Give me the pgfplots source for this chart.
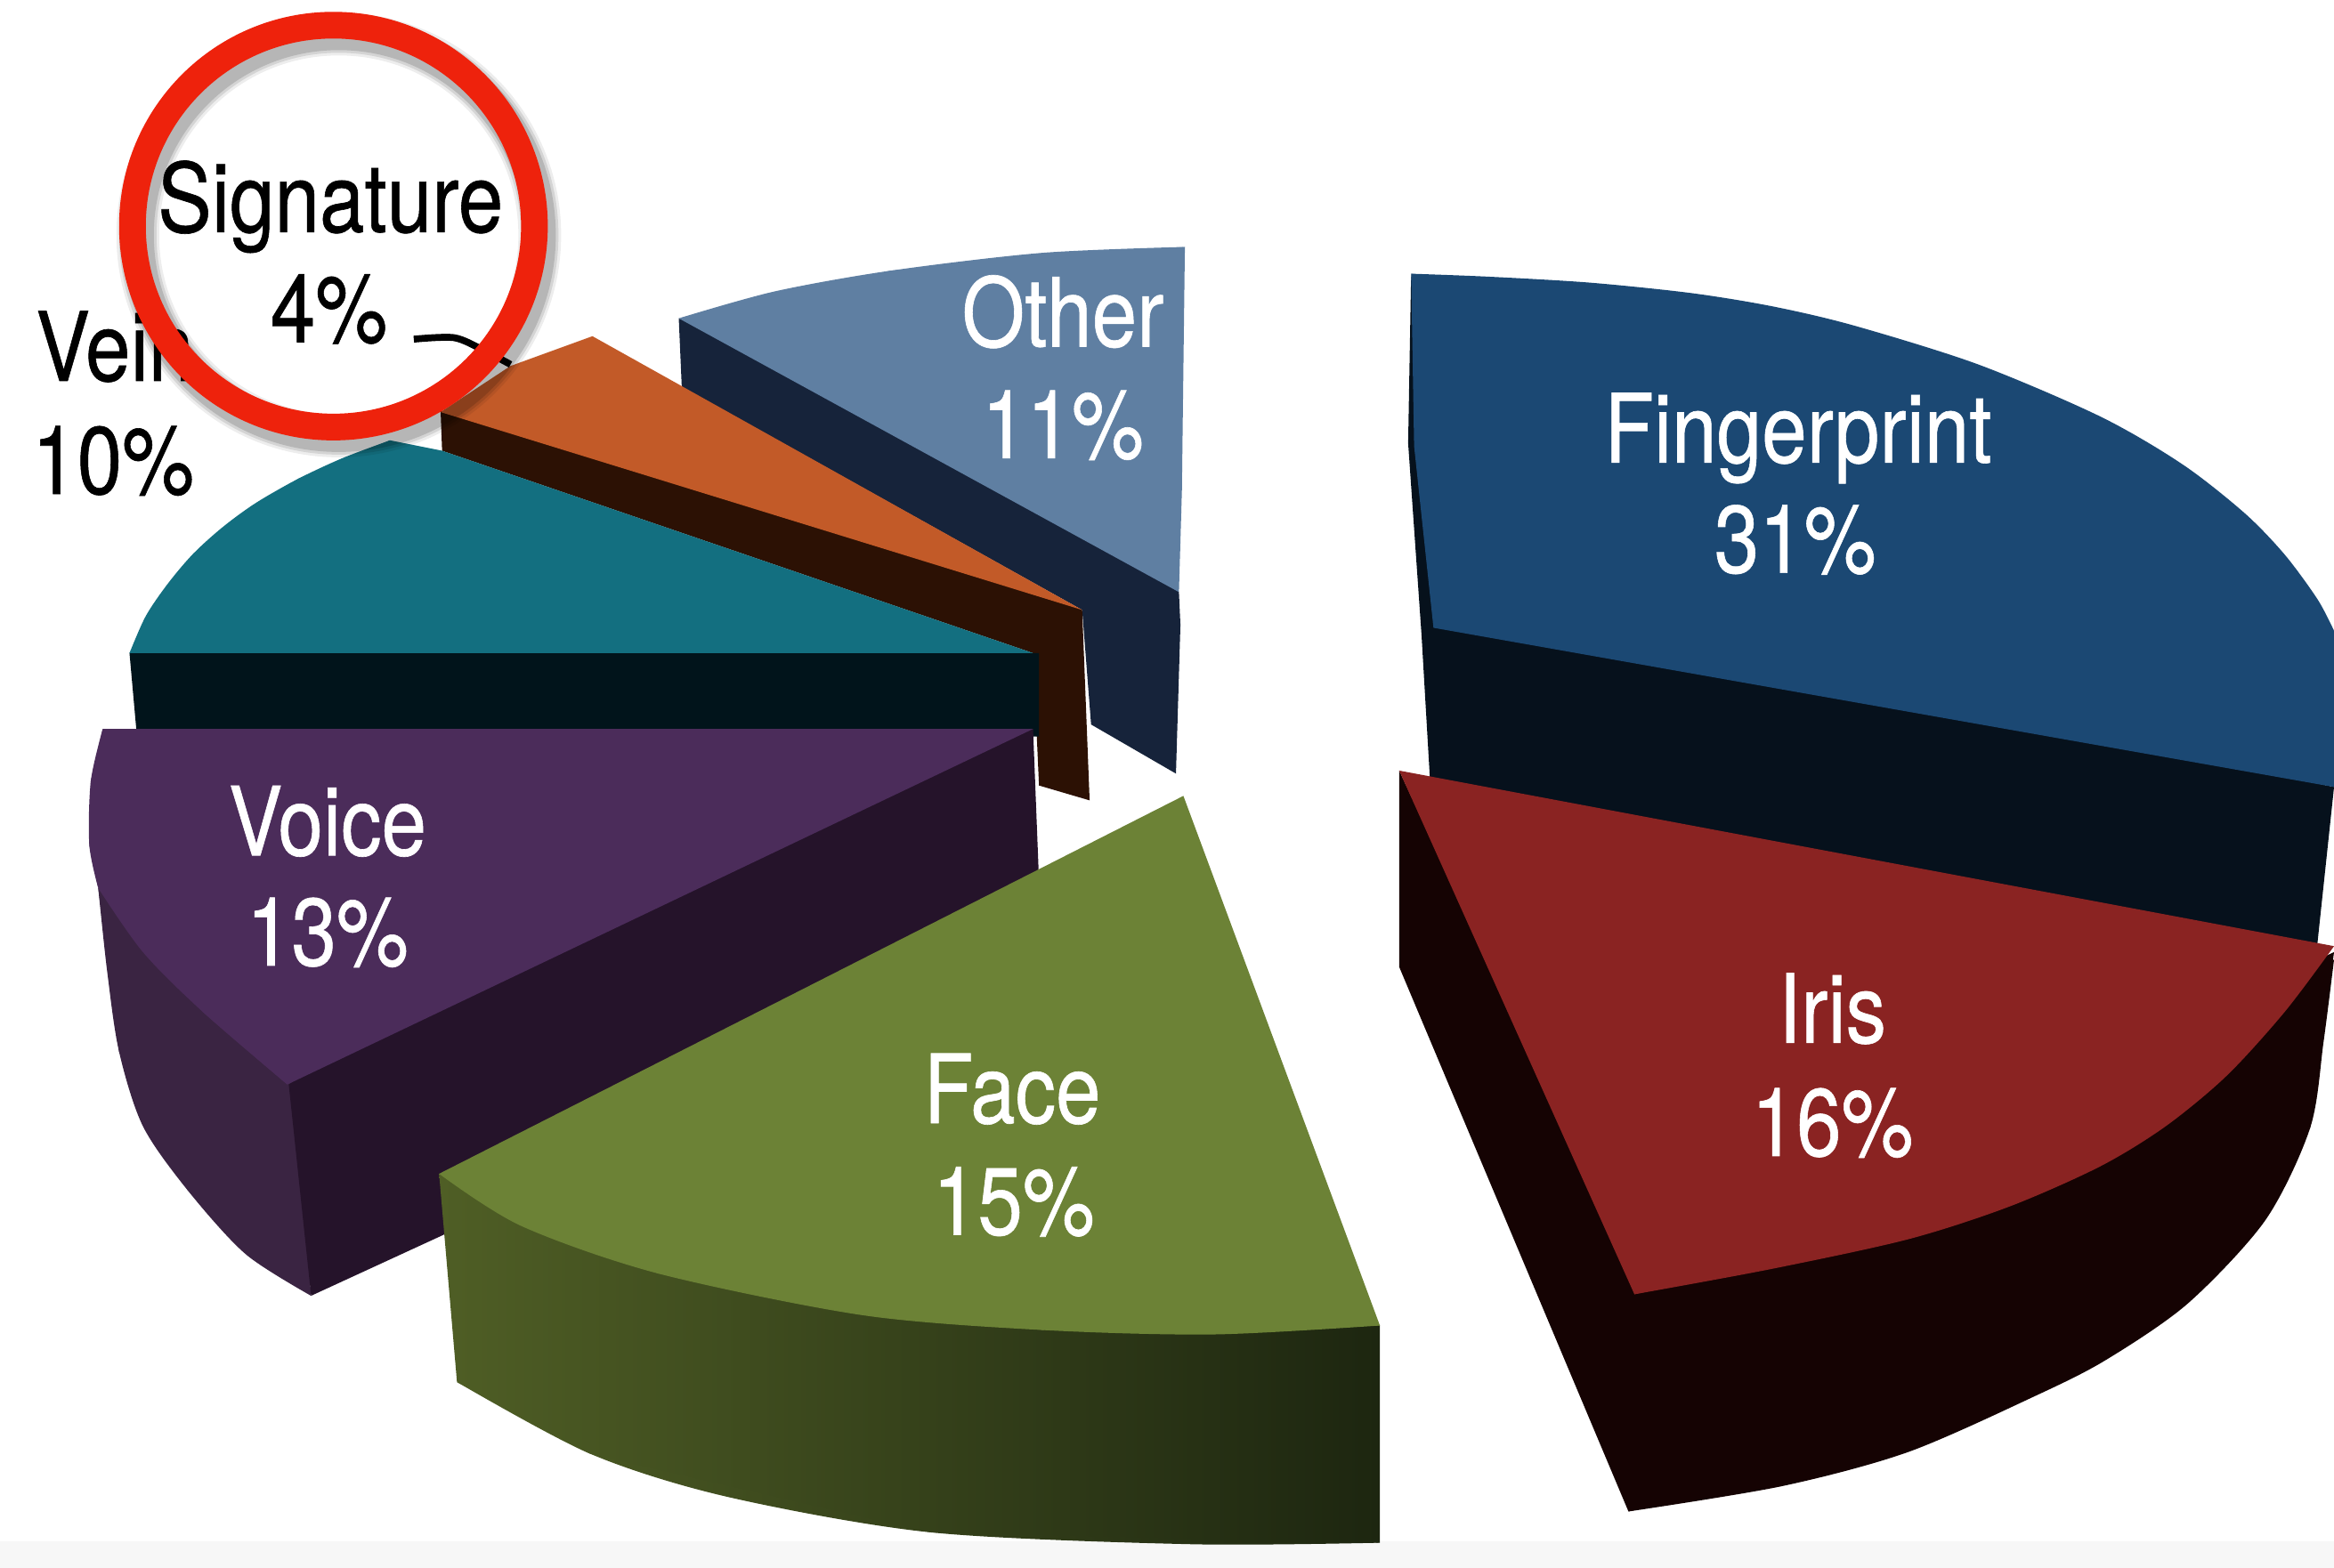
\documentclass[border=0pt]{standalone}
\usepackage{graphicx}
\usepackage{fontspec}
\setmainfont{TeX Gyre Heros}
\newfontfamily\lf{TeX Gyre Heros}[FakeBold=0.6]
\usepackage{pgfplots}
\pgfplotsset{compat=1.18}
\definecolor{fp}{HTML}{1B4873}\definecolor{fps}{HTML}{06111C}
\definecolor{ir}{HTML}{8A2322}\definecolor{irs}{HTML}{150303}
\definecolor{fa}{HTML}{6C8236}\definecolor{fasl}{HTML}{4F5E25}\definecolor{fasm}{HTML}{3A431A}\definecolor{fasr}{HTML}{1D2610}
\definecolor{vo}{HTML}{4B2C5A}\definecolor{vos}{HTML}{25132A}\definecolor{voo}{HTML}{3A2442}
\definecolor{ve}{HTML}{136F80}\definecolor{ves}{HTML}{01141B}
\definecolor{si}{HTML}{C25A28}\definecolor{sis}{HTML}{2C1104}
\definecolor{ot}{HTML}{5F7FA2}\definecolor{ots}{HTML}{16233A}
\definecolor{ring}{HTML}{EE220C}
\newcommand{\lab}[4]{\node[anchor=base,inner sep=0pt,text=#4] at (axis cs:#1,#2) {\lf\fontsize{15.3}{18}\selectfont\scalebox{.845}[1]{#3}};}
\begin{document}
\begin{tikzpicture}
\begin{axis}[scale only axis,width=13.11cm,height=8.81cm,xmin=0,xmax=1568,ymin=0,ymax=1054,y dir=reverse,hide axis,no markers,clip=true]
% canvas and faint band at the foot
\addplot[fill=white,draw=none] coordinates {(0,0)(1568,0)(1568,1054)(0,1054)};
\addplot[fill=black!3,draw=none] coordinates {(0,1036)(1568,1036)(1568,1054)(0,1054)};
% Other
\addplot[fill=ots,draw=none] coordinates {(456,214)(600,280)(780,380)(792,398)(793,420)(790,520)(733,487)(727,410)(458,260)};
\addplot[fill=ot,draw=none] coordinates {(456,214)(598,182)(796,166)(794,330)(792,398)};
\addplot[fill=ot,draw=none,smooth] coordinates {(456,214)(520,196)(598,182)(700,170)(796,166)};
% Signature
\addplot[fill=sis,draw=none] coordinates {(296,276)(500,335)(700,398)(727,410)(732,538)(698,528)(694,439)(297,303)};
\addplot[fill=si,draw=none] coordinates {(296,277)(343,246)(398,226)(727,410)};
% Vein
\addplot[fill=ves,draw=none] coordinates {(87,439)(300,432)(640,425)(694,439)(698,439)(698,495)(92,495)};
\addplot[fill=ve,draw=none] coordinates {(87,439)(130,372)(200,322)(262,296)(297,303)(694,439)};
\addplot[fill=ve,draw=none,smooth] coordinates {(87,439)(98,414)(113,392)(130,372)(150,354)(172,338)(200,322)(230,308)(262,296)};
% Voice
\addplot[fill=voo,draw=none,smooth] coordinates {(66,597)(72,653)(80,707)(96,757)(126,800)(165,843)(209,871)};
\addplot[fill=voo,draw=none] coordinates {(66,597)(80,707)(126,800)(209,871)(197,715)(136,670)};
\addplot[fill=vos,draw=none] coordinates {(680,492)(694,490)(698,592)(320,810)(298,830)(209,871)(194,729)(250,690)};
\addplot[fill=vo,draw=none] coordinates {(69,490)(694,490)(193,729)(136,680)(66,597)(60,568)(61,525)};
\addplot[fill=vo,draw=none,smooth] coordinates {(69,490)(61,525)(60,568)(66,597)};
\addplot[fill=vo,draw=none,smooth] coordinates {(66,597)(96,640)(136,680)(193,729)};
% Face
\addplot[draw=none,left color=fasl,middle color=fasm,right color=fasr,smooth] coordinates {(307,929)(396,977)(488,1006)(625,1030)(800,1038)(927,1037)};
\addplot[draw=none,left color=fasl,middle color=fasm,right color=fasr] coordinates {(295,789)(350,815)(915,885)(927,891)(927,1037)(625,1030)(396,977)(307,929)};
\addplot[fill=fa,draw=none] coordinates {(795,535)(927,891)(700,894)(442,856)(295,789)};
\addplot[fill=fa,draw=none,smooth] coordinates {(295,789)(350,824)(442,856)(579,884)(700,894)(815,897)(927,891)};
% Fingerprint
\addplot[fill=fps,draw=none] coordinates {(948,184)(946,298)(955,427)(961,530)(1556,642)(1568,529)(1260,465)(963,415)};
\addplot[fill=fp,draw=none] coordinates {(948,184)(1246,226)(1466,320)(1568,424)(1568,529)(963,422)(950,300)};
\addplot[fill=fp,draw=none,smooth] coordinates {(948,184)(1000,186)(1068,190)(1136,197)(1191,206)(1246,219)(1329,245)(1411,280)(1466,312)(1508,345)(1535,373)(1557,403)(1568,424)};
% Iris
\addplot[fill=irs,draw=none,smooth] coordinates {(1568,645)(1561,700)(1552,758)(1522,820)(1470,876)(1415,914)(1368,938)(1282,976)(1197,999)(1094,1016)};
\addplot[fill=irs,draw=none] coordinates {(940,518)(1098,860)(1568,640)(1552,758)(1470,870)(1282,970)(1094,1016)(940,650)};
\addplot[fill=ir,draw=none] coordinates {(940,518)(1568,636)(1411,778)(1282,828)(1098,870)};
\addplot[fill=ir,draw=none,smooth] coordinates {(1568,636)(1535,680)(1496,723)(1455,757)(1411,784)(1350,811)(1282,833)(1190,853)(1098,870)};
% labels
\lab{714}{233}{Other}{white}
\lab{714}{308}{11\%}{white}
\lab{1208}{311}{Fingerprint}{white}
\lab{1206}{385}{31\%}{white}
\lab{1231}{701}{Iris}{white}
\lab{1231}{777}{16\%}{white}
\lab{680}{755}{Face}{white}
\lab{681}{830}{15\%}{white}
\lab{220}{575}{Voice}{white}
\lab{220}{649}{13\%}{white}
\lab{77}{256}{Vein}{black}
\lab{76}{332}{10\%}{black}
\lab{222}{156}{Signature}{black}
\lab{221}{230}{4\%}{black}
% leader line
\addplot[black,line width=1.1pt,smooth] coordinates {(278,228)(305,227)(324,235)(343,245)};
% ring and its shadow
\draw[black,opacity=.07,line width=.24cm] ([xshift=.03cm,yshift=-.05cm]axis cs:224,152) circle[radius=1.129cm];
\draw[black,opacity=.10,line width=.21cm] ([xshift=.03cm,yshift=-.05cm]axis cs:224,152) circle[radius=1.129cm];
\draw[black,opacity=.14,line width=.18cm] ([xshift=.03cm,yshift=-.05cm]axis cs:224,152) circle[radius=1.129cm];
\draw[ring,line width=.15cm] (axis cs:224,152) circle[radius=1.129cm];
\end{axis}
\end{tikzpicture}
\end{document}
